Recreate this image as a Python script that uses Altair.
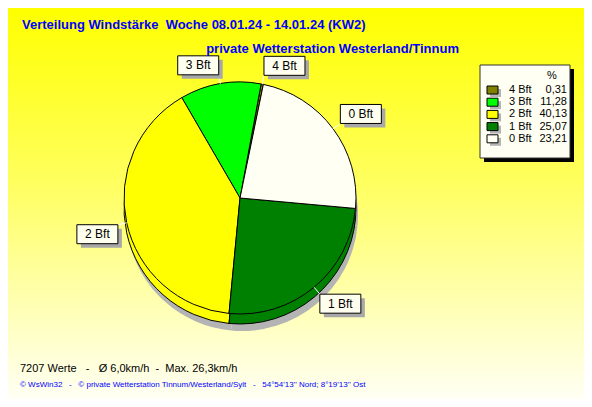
import math
import altair as alt
import pandas as pd

# ---- data ----
labels = ["4 Bft", "3 Bft", "2 Bft", "1 Bft", "0 Bft"]
percent = [0.31, 11.28, 40.13, 25.07, 23.21]
value_text = ["0,31", "11,28", "40,13", "25,07", "23,21"]
colors = ["#808000", "#00FF00", "#FFFF00", "#008000", "#FFFFF4"]
pie_order = [0, 4, 3, 2, 1]  # clockwise order in the pie

NB = "\u00a0"
title = f"Verteilung Windstärke{NB} Woche 08.01.24 - 14.01.24 (KW2)"
subtitle = "private Wetterstation Westerland/Tinnum"
stats = f"7207 Werte{NB}{NB} -{NB}{NB} Ø 6,0km/h{NB} -{NB} Max. 26,3km/h"
footer = (f"© WsWin32{NB}{NB} -{NB}{NB} © private Wetterstation Tinnum/Westerland/Sylt"
          f"{NB}{NB} -{NB}{NB} 54°54'13'' Nord; 8°19'13'' Ost")

# ---- layout ----
W, H = 576, 391
CX, CY = 232, 190
R = 116
DEPTH = 10
START = math.radians(10.5)
BW, BH = 41, 19
FONT = "Liberation Sans"

df = pd.DataFrame({"label": labels, "pct": percent, "val": value_text,
                   "ord": pie_order, "idx": list(range(len(labels)))})
color_scale = alt.Scale(domain=labels, range=colors)
theta = alt.Theta("pct:Q", stack=True,
                  scale=alt.Scale(range=[START, START + 2 * math.pi]))

base = alt.Chart(df)

bg = alt.Chart(pd.DataFrame({"a": [0]})).mark_rect(
    color=alt.Gradient(gradient="linear",
                       stops=[alt.GradientStop(color="#FFFF00", offset=0),
                              alt.GradientStop(color="#FFFF60", offset=0.45),
                              alt.GradientStop(color="#FFFFF4", offset=1)],
                       x1=0, x2=0, y1=0, y2=1)
).encode(x=alt.value(0), x2=alt.value(W), y=alt.value(0), y2=alt.value(H))

shadow = base.mark_arc(radius=R, color="#B4B4B4").encode(
    theta=theta, order=alt.Order("ord:Q"),
    x=alt.value(CX + 2), y=alt.value(CY + DEPTH + 7))

side = base.mark_arc(radius=R, stroke="black", strokeWidth=1).encode(
    theta=theta, order=alt.Order("ord:Q"),
    color=alt.Color("label:N", scale=color_scale, legend=None),
    x=alt.value(CX), y=alt.value(CY + DEPTH))

top = base.mark_arc(radius=R, stroke="black", strokeWidth=1).encode(
    theta=theta, order=alt.Order("ord:Q"),
    color=alt.Color("label:N", scale=color_scale, legend=None),
    x=alt.value(CX), y=alt.value(CY))

# label boxes positioned from slice mid angles
lab = base.transform_joinaggregate(total="sum(pct)").transform_window(
    cum="sum(pct)", sort=[alt.SortField("ord")], frame=[None, 0]
).transform_calculate(
    ang=f"{START} + 2*PI*(datum.cum - datum.pct/2)/datum.total"
).transform_calculate(
    px=f"{CX} + {R}*sin(datum.ang)",
    py=f"{CY} - {R}*cos(datum.ang)",
    ax=f"{CX} + {R + 9}*sin(datum.ang)",
    ay=f"{CY} - {R + 9}*cos(datum.ang)",
).transform_calculate(
    bx=f"sin(datum.ang) >= 0 ? datum.ax : datum.ax - {BW}",
    by=f"cos(datum.ang) >= 0 ? datum.ay - {BH} : datum.ay",
).transform_calculate(
    bx2=f"datum.bx + {BW}", by2=f"datum.by + {BH}",
    sx=f"datum.bx + 4", sy=f"datum.by + 4",
    sx2=f"datum.bx + {BW} + 4", sy2=f"datum.by + {BH} + 4",
    tx=f"datum.bx + {BW / 2}", ty=f"datum.by + {BH / 2}",
)

leader = lab.mark_rule(color="white", strokeWidth=1).encode(
    x=alt.X("px:Q", scale=None), y=alt.Y("py:Q", scale=None),
    x2="ax:Q", y2="ay:Q")
box_shadow = lab.mark_rect(color="#A8A8A8").encode(
    x=alt.X("sx:Q", scale=None), x2="sx2:Q",
    y=alt.Y("sy:Q", scale=None), y2="sy2:Q")
box = lab.mark_rect(fill="#FFFFF0", stroke="black", strokeWidth=1).encode(
    x=alt.X("bx:Q", scale=None), x2="bx2:Q",
    y=alt.Y("by:Q", scale=None), y2="by2:Q")
box_text = lab.mark_text(font=FONT, fontSize=12, color="black",
                         align="center", baseline="middle").encode(
    x=alt.X("tx:Q", scale=None), y=alt.Y("ty:Q", scale=None), text="label:N")

# legend box
LX1, LY1, LX2, LY2 = 472, 57, 562, 150
leg_shadow = alt.Chart(pd.DataFrame({"a": [0]})).mark_rect(color="black").encode(
    x=alt.value(LX1 + 4), x2=alt.value(LX2 + 4),
    y=alt.value(LY1 + 4), y2=alt.value(LY2 + 4))
leg_box = alt.Chart(pd.DataFrame({"a": [0]})).mark_rect(
    fill="#FFFFF4", stroke="#333333", strokeWidth=1).encode(
    x=alt.value(LX1), x2=alt.value(LX2), y=alt.value(LY1), y2=alt.value(LY2))
leg_pct = alt.Chart(pd.DataFrame({"t": ["%"]})).mark_text(
    font=FONT, fontSize=11, color="black", align="center", baseline="middle"
).encode(x=alt.value(544), y=alt.value(68), text="t:N")

leg = base.transform_calculate(
    ry="82 + 12.2*datum.idx",
    sy1="82 + 12.2*datum.idx - 4", sy2="82 + 12.2*datum.idx + 4",
    hy1="82 + 12.2*datum.idx - 1", hy2="82 + 12.2*datum.idx + 7",
)
leg_sw_sh = leg.mark_rect(color="#B4B4B4").encode(
    x=alt.value(482), x2=alt.value(493),
    y=alt.Y("hy1:Q", scale=None), y2="hy2:Q")
leg_sw = leg.mark_rect(stroke="black", strokeWidth=1).encode(
    x=alt.value(479), x2=alt.value(490),
    y=alt.Y("sy1:Q", scale=None), y2="sy2:Q",
    color=alt.Color("label:N", scale=color_scale, legend=None))
leg_lab = leg.mark_text(font=FONT, fontSize=11, color="black",
                        align="left", baseline="middle").encode(
    x=alt.value(501), y=alt.Y("ry:Q", scale=None), text="label:N")
leg_val = leg.mark_text(font=FONT, fontSize=11, color="black",
                        align="right", baseline="middle").encode(
    x=alt.value(559), y=alt.Y("ry:Q", scale=None), text="val:N")

def txt(s, x, y, size, color, weight="normal", align="left"):
    return alt.Chart(pd.DataFrame({"t": [s]})).mark_text(
        font=FONT, fontSize=size, color=color, fontWeight=weight,
        align=align, baseline="middle").encode(
        x=alt.value(x), y=alt.value(y), text="t:N")

t1 = txt(title, 14, 17, 13, "#0000FF", "bold")
t2 = txt(subtitle, 451, 41, 13, "#0000FF", "bold", "right")
t3 = txt(stats, 12, 361, 11, "black")
t4 = txt(footer, 12, 377, 8, "#0000FF")

chart = alt.layer(
    bg, shadow, side, top, leader, box_shadow, box, box_text,
    leg_shadow, leg_box, leg_pct, leg_sw_sh, leg_sw, leg_lab, leg_val,
    t1, t2, t3, t4,
).properties(width=W, height=H, padding=0, autosize="none").configure_view(stroke=None)

chart.save("out.html", embed_options={"renderer": "svg", "actions": False})
